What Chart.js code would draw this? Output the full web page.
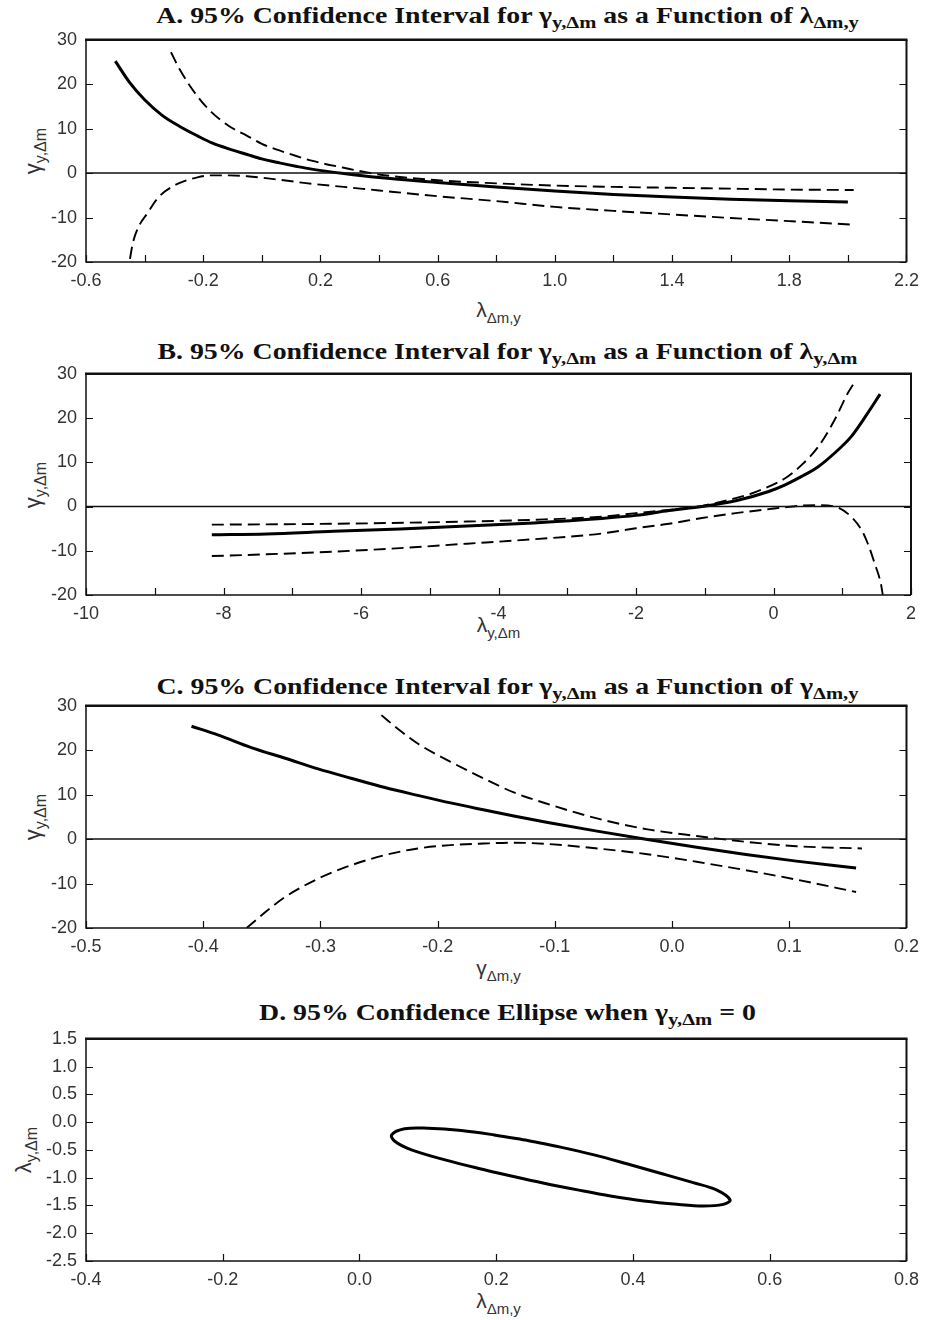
<!DOCTYPE html>
<html>
<head>
<meta charset="utf-8">
<script src="https://cdn.jsdelivr.net/npm/chart.js@4.4.1/dist/chart.umd.min.js"></script>
<style>
body { margin: 0; background: #fff; }
#page { position: relative; width: 927px; height: 1320px; overflow: hidden; }
.ttl { position: absolute; left: 95px; width: 825px; height: 28px; line-height: 28px; text-align: center;
       font-family: "Liberation Serif", "Times New Roman", serif; font-weight: bold; font-size: 23px; color: #111;
       white-space: nowrap; transform: scaleX(1.21); transform-origin: 50% 50%; }
.ttl sub { font-size: 17px; vertical-align: -5px; line-height: 0; }
.xt { position: absolute; left: 86px; width: 825px; text-align: center; line-height: 22px;
      font-family: "Liberation Sans", Arial, sans-serif; font-size: 21px; color: #333; }
.xt sub { font-size: 15px; vertical-align: -6px; line-height: 0; }
.yt { position: absolute; width: 0; height: 0; }
.yt span { position: absolute; left: 0; top: 0; white-space: nowrap; transform: translate(-50%, -50%) rotate(-90deg);
           font-family: "Liberation Sans", Arial, sans-serif; font-size: 22px; color: #333; }
.yt sub { font-size: 16px; vertical-align: -6px; line-height: 0; }
canvas { position: absolute; left: 0; }
</style>
</head>
<body>
<div id="page"></div>
<script>
// Panel A: gamma(y,dm) vs lambda(dm,y)
const aSolidX = [-0.50, -0.45, -0.40, -0.34, -0.28, -0.22, -0.17, -0.11, -0.05, 0.00, 0.06, 0.12, 0.17, 0.28, 0.40, 0.60, 0.80, 1.00, 1.20, 1.40, 1.60, 1.80, 2.00];
const aSolidY = [25.2, 20.3, 16.5, 13.0, 10.5, 8.4, 6.8, 5.4, 4.2, 3.2, 2.3, 1.5, 0.9, -0.1, -1.0, -2.1, -3.1, -4.0, -4.8, -5.4, -5.9, -6.2, -6.5];
const aUpperX = [-0.31, -0.28, -0.22, -0.17, -0.11, -0.05, 0.00, 0.06, 0.12, 0.17, 0.28, 0.40, 0.60, 0.80, 1.00, 1.20, 1.40, 1.60, 1.80, 2.02];
const aUpperY = [27.2, 23.3, 17.3, 13.6, 10.5, 8.4, 6.6, 5.1, 3.8, 2.8, 1.2, -0.3, -1.6, -2.3, -2.8, -3.1, -3.3, -3.5, -3.7, -3.8];
const aLowerX = [-0.45, -0.44, -0.42, -0.39, -0.36, -0.33, -0.28, -0.22, -0.17, -0.11, -0.05, 0.06, 0.17, 0.28, 0.40, 0.60, 0.80, 1.00, 1.20, 1.40, 1.60, 1.80, 2.02];
const aLowerY = [-19.3, -15.7, -12.0, -9.0, -6.0, -4.1, -2.2, -0.95, -0.5, -0.5, -0.7, -1.5, -2.4, -3.1, -3.9, -5.2, -6.3, -7.6, -8.5, -9.3, -10.1, -10.8, -11.6];

// Panel B: gamma(y,dm) vs lambda(y,dm)
const bSolidX = [-8.17, -7.37, -6.40, -5.43, -4.46, -3.49, -2.50, -2.00, -1.52, -1.04, -0.55, -0.07, 0.17, 0.41, 0.65, 0.89, 1.13, 1.37, 1.55];
const bSolidY = [-6.4, -6.2, -5.6, -5.1, -4.4, -3.7, -2.7, -2.0, -0.9, 0.0, 1.3, 3.4, 4.9, 6.8, 9.0, 12.1, 15.8, 21.1, 25.4];
const bUpperX = [-8.17, -6.40, -4.46, -3.49, -2.50, -2.00, -1.52, -1.04, -0.55, -0.31, -0.07, 0.17, 0.41, 0.65, 0.89, 1.08, 1.20];
const bUpperY = [-4.1, -3.9, -3.4, -3.0, -2.3, -1.5, -0.75, 0.15, 1.9, 3.0, 4.5, 6.4, 9.4, 13.5, 19.6, 25.6, 28.6];
const bLowerX = [-8.17, -7.37, -6.40, -5.43, -4.46, -3.49, -2.50, -2.00, -1.52, -1.04, -0.55, -0.07, 0.17, 0.41, 0.65, 0.89, 1.13, 1.28, 1.37, 1.47, 1.56, 1.59];
const bLowerY = [-11.2, -10.8, -10.2, -9.4, -8.4, -7.4, -6.1, -4.9, -3.9, -2.6, -1.5, -0.6, -0.15, 0.2, 0.3, 0.0, -2.3, -5.3, -8.3, -12.8, -17.3, -20.0];

// Panel C: gamma(y,dm) vs gamma(dm,y)
const cSolidX = [-0.410, -0.387, -0.359, -0.330, -0.302, -0.274, -0.245, -0.217, -0.189, -0.161, -0.135, -0.106, -0.064, -0.021, 0.021, 0.063, 0.106, 0.157];
const cSolidY = [25.4, 23.4, 20.6, 18.2, 15.8, 13.7, 11.6, 9.85, 8.15, 6.6, 5.2, 3.75, 1.8, -0.1, -1.85, -3.45, -4.95, -6.5];
const cUpperX = [-0.248, -0.231, -0.217, -0.189, -0.161, -0.135, -0.106, -0.064, -0.021, 0.021, 0.063, 0.106, 0.162];
const cUpperY = [27.9, 24.2, 21.5, 17.4, 13.7, 10.5, 7.9, 4.65, 2.2, 0.7, -0.6, -1.6, -2.1];
const cLowerX = [-0.363, -0.344, -0.330, -0.302, -0.274, -0.245, -0.217, -0.189, -0.161, -0.135, -0.106, -0.064, -0.021, 0.021, 0.063, 0.106, 0.157];
const cLowerY = [-20.0, -15.8, -13.0, -8.9, -5.9, -3.6, -2.1, -1.35, -1.0, -0.8, -1.1, -2.1, -3.4, -5.1, -7.0, -9.1, -11.9];

// Panel D: confidence ellipse, lambda(y,dm) vs lambda(dm,y)
const dEllipseX = [0.246, 0.294, 0.343, 0.391, 0.440, 0.488, 0.522, 0.542, 0.532, 0.503, 0.464, 0.416, 0.367, 0.319, 0.270, 0.222, 0.173, 0.125, 0.076, 0.052, 0.047, 0.066, 0.100, 0.149, 0.197, 0.246];
const dEllipseY = [-0.33, -0.45, -0.59, -0.75, -0.92, -1.09, -1.22, -1.40, -1.48, -1.51, -1.48, -1.42, -1.33, -1.22, -1.10, -0.97, -0.83, -0.68, -0.50, -0.35, -0.23, -0.12, -0.11, -0.15, -0.23, -0.33];

const panels = [
  { key: "A", top: 40, bottom: 262, titleY: 2, xTitleY: 299, yTitleX: 33,
    title: 'A. 95% Confidence Interval for γ<sub>y,Δm</sub> as a Function of λ<sub>Δm,y</sub>',
    xTitle: 'λ<sub>Δm,y</sub>', yTitle: 'γ<sub>y,Δm</sub>',
    x: { min: -0.6, max: 2.2, step: 0.2, every: 2, dec: 1 }, y: { min: -20, max: 30, step: 10, dec: 0 },
    series: [[aSolidX, aSolidY, "solid"], [aUpperX, aUpperY, "dash"], [aLowerX, aLowerY, "dash"]] },
  { key: "B", top: 374, bottom: 595, titleY: 338, xTitleY: 614, yTitleX: 33,
    title: 'B. 95% Confidence Interval for γ<sub>y,Δm</sub> as a Function of λ<sub>y,Δm</sub>',
    xTitle: 'λ<sub>y,Δm</sub>', yTitle: 'γ<sub>y,Δm</sub>',
    x: { min: -10, max: 2, step: 1, every: 2, dec: 0 }, y: { min: -20, max: 30, step: 10, dec: 0 },
    series: [[bSolidX, bSolidY, "solid"], [bUpperX, bUpperY, "dash"], [bLowerX, bLowerY, "dash"]] },
  { key: "C", top: 706, bottom: 928, titleY: 673, xTitleY: 957, yTitleX: 33,
    title: 'C. 95% Confidence Interval for γ<sub>y,Δm</sub> as a Function of γ<sub>Δm,y</sub>',
    xTitle: 'γ<sub>Δm,y</sub>', yTitle: 'γ<sub>y,Δm</sub>',
    x: { min: -0.5, max: 0.2, step: 0.1, every: 1, dec: 1 }, y: { min: -20, max: 30, step: 10, dec: 0 },
    series: [[cSolidX, cSolidY, "solid"], [cUpperX, cUpperY, "dash"], [cLowerX, cLowerY, "dash"]] },
  { key: "D", top: 1039, bottom: 1261, titleY: 999, xTitleY: 1290, yTitleX: 24,
    title: 'D. 95% Confidence Ellipse when γ<sub>y,Δm</sub> = 0',
    xTitle: 'λ<sub>Δm,y</sub>', yTitle: 'λ<sub>y,Δm</sub>',
    x: { min: -0.4, max: 0.8, step: 0.2, every: 1, dec: 1 }, y: { min: -2.5, max: 1.5, step: 0.5, dec: 1 },
    series: [[dEllipseX, dEllipseY, "ellipse"]] }
];

Chart.defaults.font.family = "'Liberation Sans', Arial, sans-serif";
Chart.defaults.font.size = 18;
Chart.defaults.color = "#333";

// frame with inside tick marks, like the original figure
const frameTicks = {
  id: "frameTicks",
  afterDatasetsDraw(chart) {
    const { ctx, chartArea: a, scales } = chart;
    ctx.save();
    ctx.strokeStyle = "#111";
    ctx.lineWidth = 1.2;
    ctx.beginPath();
    scales.x.ticks.forEach(t => {
      const px = Math.round(scales.x.getPixelForValue(t.value)) + 0.5;
      ctx.moveTo(px, a.bottom);
      ctx.lineTo(px, a.bottom - 7);
    });
    scales.y.ticks.forEach(t => {
      const py = Math.round(scales.y.getPixelForValue(t.value)) + 0.5;
      ctx.moveTo(a.left, py);
      ctx.lineTo(a.left + 7, py);
      ctx.moveTo(a.right, py);
      ctx.lineTo(a.right - 7, py);
    });
    ctx.stroke();
    ctx.lineWidth = 1.5;
    ctx.beginPath();
    ctx.moveTo(a.left, a.top);
    ctx.lineTo(a.left, a.bottom);
    ctx.lineTo(a.right, a.bottom);
    ctx.stroke();
    ctx.lineWidth = 2;
    ctx.beginPath();
    ctx.moveTo(a.right, a.bottom);
    ctx.lineTo(a.right, a.top);
    ctx.stroke();
    ctx.lineWidth = 2.5;
    ctx.beginPath();
    ctx.moveTo(a.left - 1, a.top);
    ctx.lineTo(a.right + 1, a.top);
    ctx.stroke();
    ctx.restore();
  }
};

function toPoints(xs, ys) {
  return xs.map((x, i) => ({ x: x, y: ys[i] }));
}

function fmt(v, dec) {
  if (Math.abs(v) < 1e-9) v = 0;
  return v.toFixed(dec);
}

const page = document.getElementById("page");

panels.forEach(p => {
  const below = 40;
  const plotH = p.bottom - p.top;

  let t = document.createElement("div");
  t.className = "ttl";
  t.style.top = p.titleY + "px";
  t.innerHTML = p.title;
  page.appendChild(t);

  let xt = document.createElement("div");
  xt.className = "xt";
  xt.style.top = p.xTitleY + "px";
  xt.innerHTML = p.xTitle;
  page.appendChild(xt);

  let yt = document.createElement("div");
  yt.className = "yt";
  yt.style.left = p.yTitleX + "px";
  yt.style.top = ((p.top + p.bottom) / 2) + "px";
  yt.innerHTML = "<span>" + p.yTitle + "</span>";
  page.appendChild(yt);

  let cv = document.createElement("canvas");
  cv.width = 927;
  cv.height = plotH + 60 + below;
  page.appendChild(cv);

  let datasets = [];
  if (p.key !== "D") {
    datasets.push({
      data: [{ x: p.x.min, y: 0 }, { x: p.x.max, y: 0 }],
      borderColor: "#111", borderWidth: 1.5, pointRadius: 0, tension: 0
    });
  }
  p.series.forEach(s => {
    let ds = {
      data: toPoints(s[0], s[1]),
      borderColor: "#000",
      pointRadius: 0,
      fill: false
    };
    if (s[2] === "solid") {
      ds.borderWidth = 3;
      ds.cubicInterpolationMode = "monotone";
    } else if (s[2] === "dash") {
      ds.borderWidth = 1.9;
      ds.borderDash = [12, 6];
      ds.cubicInterpolationMode = "monotone";
    } else {
      ds.borderWidth = 3;
      ds.tension = 0.35;
    }
    datasets.push(ds);
  });

  const chart = new Chart(cv, {
    type: "scatter",
    data: { datasets: datasets },
    options: {
      responsive: false,
      maintainAspectRatio: false,
      animation: false,
      showLine: true,
      layout: { padding: { top: 0, right: 16, left: 0, bottom: 0 } },
      plugins: { legend: { display: false }, tooltip: { enabled: false } },
      scales: {
        x: {
          type: "linear", min: p.x.min, max: p.x.max,
          grid: { display: false, drawTicks: false },
          border: { display: false },
          ticks: {
            stepSize: p.x.step, autoSkip: false, maxRotation: 0, padding: 8,
            callback: (v, i) => (i % p.x.every === 0 ? fmt(v, p.x.dec) : "")
          },
          afterFit: s => { s.height = below; }
        },
        y: {
          type: "linear", min: p.y.min, max: p.y.max,
          grid: { display: false, drawTicks: false },
          border: { display: false },
          ticks: {
            stepSize: p.y.step, autoSkip: false, padding: 9,
            callback: v => fmt(v, p.y.dec)
          },
          afterFit: s => { s.width = 86; }
        }
      }
    },
    plugins: [frameTicks]
  });

  // size the canvas so the plot box lands on the same rows as the original figure
  const ct = chart.chartArea.top;
  const extra = cv.height - chart.chartArea.bottom;
  chart.resize(927, Math.round(ct + plotH + extra));
  cv.style.top = (p.top - chart.chartArea.top) + "px";
});
</script>
</body>
</html>
